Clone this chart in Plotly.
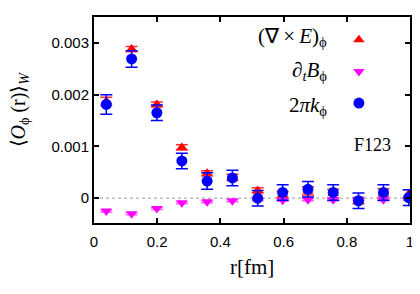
import plotly.graph_objects as go

# ---- data ----
r = [0.039, 0.119, 0.199, 0.278, 0.358, 0.438, 0.518, 0.597, 0.677, 0.757, 0.837, 0.916, 0.996]

curlE = [0.00187, 0.00288, 0.00181, 0.00098, 0.00048, 0.00040, 0.00015, 0.00007, 0.00014, 0.00009, -0.00005, 0.00010, 0.00008]
curlE_err = [0.00008, 0.00005, 0.00005, 0.00005, 0.00005, 0.00006, 0.00005, 0.00006, 0.00008, 0.00008, 0.00006, 0.00008, 0.00008]

dtB = [-0.00025, -0.00030, -0.00020, -0.00009, -0.00007, -0.00005, -0.00003, -0.00004, -0.00003, -0.00003, -0.00002, -0.00003, -0.00002]
dtB_err = [0.00002, 0.00002, 0.00002, 0.00002, 0.00002, 0.00002, 0.00002, 0.00002, 0.00002, 0.00002, 0.00002, 0.00002, 0.00002]

kphi = [0.00181, 0.00269, 0.00165, 0.00072, 0.00033, 0.00039, 0.00000, 0.00011, 0.00017, 0.00011, -0.00005, 0.00011, 0.00001]
kphi_err = [0.00019, 0.00016, 0.00015, 0.00015, 0.00016, 0.00015, 0.00015, 0.00015, 0.00015, 0.00015, 0.00015, 0.00015, 0.00015]

x_ticks = [0, 0.2, 0.4, 0.6, 0.8, 1.0]
x_ticklabels = ["0", "0.2", "0.4", "0.6", "0.8", "1"]
y_ticks = [0, 0.001, 0.002, 0.003]
y_ticklabels = ["0", "0.001", "0.002", "0.003"]

labels = ["(\u2207\u2009\u00d7\u2009<i>E</i>)<sub>\u03d5</sub>",
          "\u2202<sub><i>t</i></sub><i>B</i><sub>\u03d5</sub>",
          "2<i>\u03c0k</i><sub>\u03d5</sub>"]

fig = go.Figure()

fig.add_trace(go.Scatter(
    x=r, y=curlE, mode="markers", name=" ",
    marker=dict(symbol="triangle-up", size=10, color="#ff0000"),
    error_y=dict(type="data", array=curlE_err, color="#ff3030", thickness=1.5, width=6),
))
fig.add_trace(go.Scatter(
    x=r, y=dtB, mode="markers", name=" ",
    marker=dict(symbol="triangle-down", size=10, color="#ff00ff"),
    error_y=dict(type="data", array=dtB_err, color="#ff60ff", thickness=1.5, width=6),
))
fig.add_trace(go.Scatter(
    x=r, y=kphi, mode="markers", name=" ",
    marker=dict(symbol="circle", size=11, color="#0000ff"),
    error_y=dict(type="data", array=kphi_err, color="#0000ff", thickness=1.5, width=6),
))

fig.add_hline(y=0, line=dict(color="#999999", width=1, dash="dot"), layer="below")

serif = "Liberation Serif, Times New Roman, serif"
sans = "Liberation Sans, Arial, sans-serif"

for i, t in enumerate(labels):
    fig.add_annotation(xref="paper", yref="paper", x=0.745, y=0.905 - i * 0.168,
                       text=t, showarrow=False, xanchor="right", yanchor="middle",
                       font=dict(family=serif, size=21, color="black"))

fig.add_annotation(xref="paper", yref="paper", x=0.945, y=0.38,
                   text="F123", showarrow=False, xanchor="right", yanchor="middle",
                   font=dict(family=serif, size=18, color="black"))

fig.add_annotation(xref="paper", yref="paper", x=-0.235, y=0.55,
                   text="\u27e8<i>O</i><sub>\u03d5</sub> (r)\u27e9<sub><i>W</i></sub>",
                   showarrow=False, textangle=-90, xanchor="center", yanchor="middle",
                   font=dict(family=serif, size=20, color="black"))

fig.add_annotation(xref="paper", yref="paper", x=0.5, y=-0.214,
                   text="r[fm]", showarrow=False, xanchor="center", yanchor="middle",
                   font=dict(family=serif, size=21, color="black"))

# page body has an 8px margin: size the figure so the plot lands where the reference has it
fig.update_layout(
    width=412, height=286,
    margin=dict(l=86, r=10, t=9, b=71, autoexpand=False),
    paper_bgcolor="white", plot_bgcolor="white",
    showlegend=True,
    legend=dict(x=0.775, y=0.99, xanchor="left", yanchor="top",
                bgcolor="rgba(0,0,0,0)", font=dict(size=22, family=serif),
                tracegroupgap=0, itemwidth=30),
    xaxis=dict(range=[0, 1.0], tickvals=x_ticks, ticktext=x_ticklabels,
               ticks="inside", ticklen=5, tickwidth=1.5, tickcolor="black",
               showline=True, linecolor="black", linewidth=2, mirror="ticks",
               showgrid=False, zeroline=False, automargin=False, ticklabelstandoff=4,
               tickfont=dict(family=sans, size=15, color="black")),
    yaxis=dict(range=[-0.00048, 0.0035], tickvals=y_ticks, ticktext=y_ticklabels,
               ticks="inside", ticklen=5, tickwidth=1.5, tickcolor="black",
               showline=True, linecolor="black", linewidth=2, mirror="ticks",
               showgrid=False, zeroline=False, automargin=False,
               tickfont=dict(family=sans, size=15, color="black")),
)

fig.write_html("out.html")
